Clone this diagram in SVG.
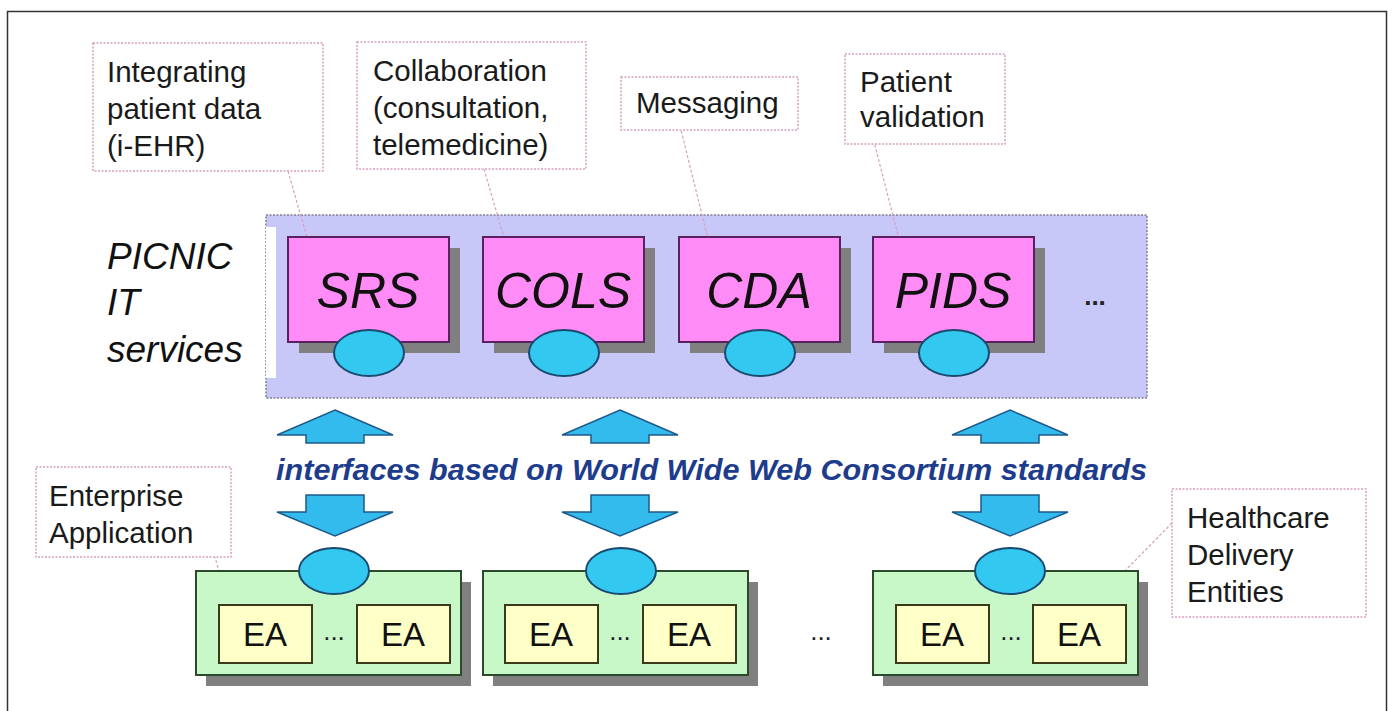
<svg xmlns="http://www.w3.org/2000/svg" width="1393" height="711" viewBox="0 0 1393 711">
<style>
.lbl{fill:#fff;stroke:#d8a0c0;stroke-width:1.5;stroke-dasharray:2 1.5}
.lt{font-family:"Liberation Sans",Arial,sans-serif;font-size:29.5px;fill:#1a1a1a}
.lead{stroke:#d8a0c0;stroke-width:1.2;stroke-dasharray:3 2;fill:none}
.svc{fill:#ff8cf6;stroke:#5a2060;stroke-width:2}
.shd{fill:#808080}
.st{font-family:"Liberation Sans",Arial,sans-serif;font-style:italic;font-size:50px;fill:#111;text-anchor:middle}
.ell{fill:#33c8f0;stroke:#1a4a70;stroke-width:2}
.arr{fill:#33bbee;stroke:#1e5a8a;stroke-width:1.5}
.grn{fill:#c8f8c8;stroke:#2a4a2a;stroke-width:2}
.ea{fill:#ffffc8;stroke:#3a3a1a;stroke-width:2}
.eat{font-family:"Liberation Sans",Arial,sans-serif;font-size:33px;fill:#111;text-anchor:middle}
.dots{font-family:"Liberation Sans",Arial,sans-serif;font-size:26px;fill:#222;text-anchor:middle}
</style>
<rect x="0" y="0" width="1393" height="711" fill="#fff"/>
<path d="M7.5 720 V11.5 H1386.5 V720" fill="none" stroke="#333" stroke-width="1.5"/>

<g id="panel">
<rect x="266" y="215" width="881" height="183" fill="#c8c8f8" stroke="#808090" stroke-width="1.5" stroke-dasharray="2 1.5"/>
<rect x="266" y="227" width="10" height="151" fill="#fff"/>
<text x="1095" y="305" class="dots" font-weight="bold">...</text>
</g>

<g id="picnic-label">
<text font-family="Liberation Sans, Arial, sans-serif" font-style="italic" font-size="37" fill="#111">
<tspan x="107" y="269">PICNIC</tspan><tspan x="107" y="315">IT</tspan><tspan x="107" y="362">services</tspan></text>
</g>

<g id="connectors">
<line class="lead" x1="288" y1="171" x2="310" y2="248"/>
<line class="lead" x1="484" y1="169" x2="507" y2="248"/>
<line class="lead" x1="680" y1="126" x2="710" y2="247"/>
<line class="lead" x1="871" y1="130" x2="901" y2="247"/>
<line class="lead" x1="209" y1="536" x2="232" y2="617"/>
<line class="lead" x1="1172" y1="523" x2="1114" y2="582"/>
</g>

<g id="label-ehr">
<rect class="lbl" x="93" y="43" width="230" height="128"/>
<text class="lt"><tspan x="107" y="82">Integrating</tspan><tspan x="107" y="119">patient data</tspan><tspan x="107" y="156">(i-EHR)</tspan></text>
</g>
<g id="label-collab">
<rect class="lbl" x="357" y="42" width="229" height="127"/>
<text class="lt"><tspan x="373" y="81">Collaboration</tspan><tspan x="373" y="118">(consultation,</tspan><tspan x="373" y="155">telemedicine)</tspan></text>
</g>
<g id="label-messaging">
<rect class="lbl" x="621" y="77" width="177" height="53"/>
<text class="lt" x="636" y="113">Messaging</text>
</g>
<g id="label-pids">
<rect class="lbl" x="845" y="54" width="160" height="90"/>
<text class="lt"><tspan x="860" y="92">Patient</tspan><tspan x="860" y="127">validation</tspan></text>
</g>

<g id="svc-srs">
<rect class="shd" x="299" y="248" width="161" height="105"/>
<rect class="svc" x="288" y="237" width="161" height="105"/>
<text class="st" x="368" y="308">SRS</text>
<ellipse class="ell" cx="369" cy="353" rx="35" ry="23"/>
</g>
<g id="svc-cols">
<rect class="shd" x="494" y="248" width="161" height="105"/>
<rect class="svc" x="483" y="237" width="161" height="105"/>
<text class="st" x="563" y="308">COLS</text>
<ellipse class="ell" cx="564" cy="353" rx="35" ry="23"/>
</g>
<g id="svc-cda">
<rect class="shd" x="690" y="248" width="161" height="105"/>
<rect class="svc" x="679" y="237" width="161" height="105"/>
<text class="st" x="759" y="308">CDA</text>
<ellipse class="ell" cx="760" cy="353" rx="35" ry="23"/>
</g>
<g id="svc-pids">
<rect class="shd" x="884" y="248" width="161" height="105"/>
<rect class="svc" x="873" y="237" width="161" height="105"/>
<text class="st" x="953" y="308">PIDS</text>
<ellipse class="ell" cx="954" cy="353" rx="35" ry="23"/>
</g>

<g id="arrows">
<path class="arr" d="M335 410 L393 435 L364 435 L364 443 L306 443 L306 435 L277 435 Z"/>
<path class="arr" d="M306 495 L364 495 L364 512 L393 512 L335 536 L277 512 L306 512 Z"/>
<path class="arr" d="M620 410 L678 435 L649 435 L649 443 L591 443 L591 435 L562 435 Z"/>
<path class="arr" d="M591 495 L649 495 L649 512 L678 512 L620 536 L562 512 L591 512 Z"/>
<path class="arr" d="M1010 410 L1068 435 L1039 435 L1039 443 L981 443 L981 435 L952 435 Z"/>
<path class="arr" d="M981 495 L1039 495 L1039 512 L1068 512 L1010 536 L952 512 L981 512 Z"/>
</g>

<g id="interfaces-label">
<text x="276" y="480" font-family="Liberation Sans, Arial, sans-serif" font-style="italic" font-weight="bold" font-size="29" fill="#1e3c8c" textLength="871" lengthAdjust="spacingAndGlyphs">interfaces based on World Wide Web Consortium standards</text>
</g>

<g id="label-ea">
<rect class="lbl" x="36" y="467" width="195" height="90"/>
<text class="lt"><tspan x="49" y="506">Enterprise</tspan><tspan x="49" y="543">Application</tspan></text>
</g>
<g id="label-hde">
<rect class="lbl" x="1172" y="489" width="194" height="128"/>
<text class="lt"><tspan x="1187" y="528">Healthcare</tspan><tspan x="1187" y="565">Delivery</tspan><tspan x="1187" y="602">Entities</tspan></text>
</g>

<g id="hde-1">
<rect class="shd" x="206" y="582" width="265" height="104"/>
<rect class="grn" x="196" y="571" width="265" height="104"/>
<ellipse class="ell" cx="334" cy="571" rx="35" ry="23"/>
<rect class="ea" x="219" y="605" width="93" height="58"/>
<rect class="ea" x="357" y="605" width="93" height="58"/>
<text class="eat" x="265" y="646">EA</text>
<text class="eat" x="403" y="646">EA</text>
<text class="dots" x="334" y="640">...</text>
</g>
<g id="hde-2">
<rect class="shd" x="493" y="582" width="265" height="104"/>
<rect class="grn" x="483" y="571" width="265" height="104"/>
<ellipse class="ell" cx="621" cy="571" rx="35" ry="23"/>
<rect class="ea" x="505" y="605" width="93" height="58"/>
<rect class="ea" x="643" y="605" width="93" height="58"/>
<text class="eat" x="551" y="646">EA</text>
<text class="eat" x="689" y="646">EA</text>
<text class="dots" x="620" y="640">...</text>
</g>
<g id="between-dots">
<text class="dots" x="821" y="640">...</text>
</g>
<g id="hde-3">
<rect class="shd" x="883" y="582" width="265" height="104"/>
<rect class="grn" x="873" y="571" width="265" height="104"/>
<ellipse class="ell" cx="1010" cy="571" rx="35" ry="23"/>
<rect class="ea" x="896" y="605" width="93" height="58"/>
<rect class="ea" x="1033" y="605" width="93" height="58"/>
<text class="eat" x="942" y="646">EA</text>
<text class="eat" x="1079" y="646">EA</text>
<text class="dots" x="1011" y="640">...</text>
</g>
</svg>
